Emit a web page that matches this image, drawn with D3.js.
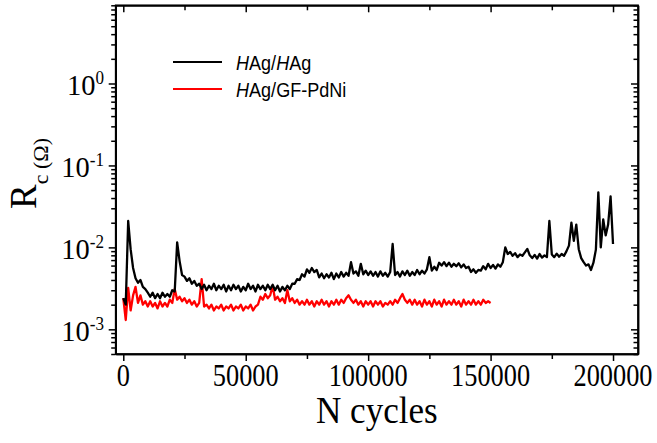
<!DOCTYPE html>
<html><head><meta charset="utf-8">
<script src="https://cdn.jsdelivr.net/npm/d3@7"></script>
<style>body{margin:0;background:#fff}svg{display:block}</style>
</head><body><div id="chart"></div>
<script>
// ---- data (resistance in units of 1e-3 Ω, sampled every 1000 cycles) ----
const cycleStep = 1000;
const seriesNames = ["HAg/HAg", "HAg/GF-PdNi"];
const seriesColors = ["#000000", "#ff0000"];
const blackValues = [
2.4,2.0,21,9.5,5.6,4.2,3.7,4.0,3.3,3.1,2.8,2.5,2.8,2.4,2.7,2.4,2.8,2.5,2.7,2.5,
3.0,2.9,11.5,6.8,4.6,4.4,3.9,4.2,3.6,3.9,3.4,3.6,3.1,3.5,3.0,3.4,3.1,3.6,3.0,3.4,
3.1,3.5,2.9,3.4,3.0,3.5,3.1,3.4,2.9,3.3,3.0,3.6,3.1,3.4,2.9,3.5,3.1,3.4,3.0,3.5,
3.1,3.5,3.0,3.4,2.9,3.3,3.0,3.4,3.1,3.6,3.6,4.1,4.0,4.7,4.4,5.4,4.9,5.6,5.0,5.3,
4.3,4.8,4.2,4.7,4.3,4.9,4.1,4.8,4.3,5.0,4.4,4.9,4.5,6.6,4.8,5.1,4.5,6.3,4.7,5.2,
4.6,5.1,4.5,5.0,4.4,5.1,4.5,4.9,4.4,5.0,11,4.6,5.0,4.4,5.1,4.6,5.2,4.5,5.0,4.6,
5.3,4.7,5.2,4.8,5.4,7.6,5.2,5.8,5.3,6.5,6.0,6.6,5.9,6.5,5.8,6.3,5.9,6.4,5.7,6.2,
5.6,5.8,5.0,5.4,4.9,5.3,5.2,5.9,5.4,6.3,5.6,6.1,5.5,6.2,5.8,6.6,10,8.3,8.8,7.9,
8.5,7.6,8.2,7.9,8.7,9.6,8.0,7.4,8.1,7.3,8.3,7.5,8.0,7.6,21,8.2,7.6,8.4,7.7,8.3,
7.9,9.0,10.5,20,12,19,9.5,7.4,6.6,6.0,6.2,5.3,6.5,9.4,47,10,22,14,19,42,
11];
const redValues = [
2.4,1.3,3.2,1.7,2.6,3.3,2.1,2.6,2.0,2.2,1.9,2.2,1.9,2.1,1.8,2.2,1.9,2.1,1.9,2.3,
2.1,3.1,2.3,2.5,2.2,2.4,2.1,2.3,2.0,2.2,1.9,2.1,4.1,1.9,2.0,1.8,2.0,1.7,1.9,1.8,
2.0,1.7,1.9,1.8,2.0,1.7,1.9,1.8,2.0,1.7,1.9,1.8,2.0,1.7,1.9,2.0,2.5,2.3,2.7,2.4,
2.6,3.4,2.3,2.5,2.2,2.4,2.1,3.0,2.2,2.4,2.1,2.3,2.0,2.2,2.0,2.3,2.0,2.2,1.9,2.2,
2.0,2.3,2.0,2.2,1.9,2.2,2.0,2.3,2.0,2.3,2.1,2.4,2.6,2.3,2.1,2.3,2.0,2.2,1.9,2.2,
2.0,2.2,1.9,2.2,2.0,2.2,1.9,2.1,2.0,2.2,2.0,2.3,2.1,2.4,2.7,2.3,2.1,2.3,2.0,2.3,
2.0,2.2,1.9,2.3,2.0,2.2,1.9,2.3,2.0,2.2,1.9,2.3,2.0,2.2,2.0,2.3,2.0,2.2,1.9,2.3,
2.0,2.2,2.0,2.3,2.0,2.2,2.0,2.3,2.1,2.2,2.1];
const xTickValues = [0, 50000, 100000, 150000, 200000];
const xMinorValues = [25000, 75000, 125000, 175000];
const yTickExponents = [-3, -2, -1, 0];
const xDomain = [-3100, 210200];
const yDomain = [5e-4, 9];

// ---- layout ----
const W = 657, H = 443;
const m = {left: 115.7, right: 638, top: 5.3, bottom: 354};
const svg = d3.select("#chart").append("svg").attr("width", W).attr("height", H);
const x = d3.scaleLinear().domain(xDomain).range([m.left, m.right]);
const y = d3.scaleLog().domain(yDomain).range([m.bottom, m.top]);

const yMajor = yTickExponents.map(e => Math.pow(10, e));
const yMinor = y.ticks().filter(v => {
  const l = Math.log10(v); return Math.abs(l - Math.round(l)) > 1e-6;
}).filter(v => v >= yDomain[0] && v <= yDomain[1]);

// ---- data lines ----
const line = d3.line().x(d => x(d[0])).y(d => y(d[1]));
svg.append("clipPath").attr("id", "clip").append("rect")
  .attr("x", m.left).attr("y", m.top).attr("width", m.right - m.left).attr("height", m.bottom - m.top);
[[redValues, seriesColors[1]], [blackValues, seriesColors[0]]].forEach(([vals, col]) => {
  const data = vals.map((v, i) => [i * cycleStep, v * 1e-3]);
  svg.append("path").datum(data)
    .attr("clip-path", "url(#clip)")
    .attr("fill", "none")
    .attr("stroke", col)
    .attr("stroke-width", 2.3)
    .attr("stroke-linejoin", "round")
    .attr("d", line);
});

// ---- axes ----
const axStyle = g => { g.selectAll("path,line").attr("stroke", "#000").attr("stroke-width", 1.5); g.selectAll("text").remove(); };
const addAxis = (gen, tx, ty) => svg.append("g").attr("transform", `translate(${tx},${ty})`).call(gen).call(axStyle);
addAxis(d3.axisBottom(x).tickValues(xTickValues).tickSize(7).tickSizeOuter(0), 0, m.bottom);
addAxis(d3.axisBottom(x).tickValues(xMinorValues).tickSize(5).tickSizeOuter(0), 0, m.bottom);
addAxis(d3.axisBottom(x).tickValues(xTickValues).tickSize(7).tickSizeOuter(0), 0, m.top);
addAxis(d3.axisBottom(x).tickValues(xMinorValues).tickSize(5).tickSizeOuter(0), 0, m.top);
addAxis(d3.axisLeft(y).tickValues(yMajor).tickSize(7).tickSizeOuter(0), m.left, 0);
addAxis(d3.axisLeft(y).tickValues(yMinor).tickSize(4.5).tickSizeOuter(0), m.left, 0);
addAxis(d3.axisLeft(y).tickValues(yMajor).tickSize(7).tickSizeOuter(0), m.right, 0);
addAxis(d3.axisLeft(y).tickValues(yMinor).tickSize(4.5).tickSizeOuter(0), m.right, 0);
svg.append("rect").attr("x", m.left).attr("y", m.top).attr("width", m.right - m.left).attr("height", m.bottom - m.top)
  .attr("fill", "none").attr("stroke", "#000").attr("stroke-width", 1.7);

// ---- tick labels ----
const serif = "'Liberation Serif','Times New Roman',serif";
svg.append("g").selectAll("text").data(xTickValues).join("text")
  .attr("transform", d => `translate(${x(d)},${m.bottom + 32}) scale(0.85,1)`)
  .attr("text-anchor", "middle").attr("font-family", serif).attr("font-size", 31)
  .text(d => String(d));
const yl = svg.append("g").selectAll("text").data(yTickExponents).join("text")
  .attr("transform", d => `translate(104,${y(Math.pow(10, d)) + 11.5}) scale(0.95,1)`)
  .attr("text-anchor", "end").attr("font-family", serif).attr("font-size", 30);
yl.append("tspan").text("10");
yl.append("tspan").attr("font-size", 18).attr("dy", -11).text(d => String(d));

// ---- axis titles ----
svg.append("text").attr("transform", `translate(${(m.left + m.right) / 2},423) scale(0.9,1)`)
  .attr("text-anchor", "middle").attr("font-family", serif).attr("font-size", 39).text("N cycles");
const yt = svg.append("text").attr("transform", "translate(36,209) rotate(-90)")
  .attr("font-family", serif).attr("font-size", 37);
yt.append("tspan").text("R");
yt.append("tspan").attr("font-size", 22).attr("dy", 12).text("c (Ω)");

// ---- legend ----
const sans = "'Liberation Sans',Arial,sans-serif";
const legY = [62, 89];
const leg = svg.append("g");
seriesNames.forEach((name, i) => {
  leg.append("line").attr("x1", 173).attr("x2", 222).attr("y1", legY[i]).attr("y2", legY[i])
    .attr("stroke", seriesColors[i]).attr("stroke-width", 2);
  const t = leg.append("text").attr("transform", `translate(236,${legY[i] + 7.5}) scale(0.86,1)`)
    .attr("font-family", sans).attr("font-size", 21);
  const parts = name.split("/");
  t.append("tspan").attr("font-style", "italic").text("H");
  t.append("tspan").text(parts[0].slice(1) + "/");
  if (parts[1].startsWith("H")) {
    t.append("tspan").attr("font-style", "italic").text("H");
    t.append("tspan").text(parts[1].slice(1));
  } else {
    t.append("tspan").text(parts[1]);
  }
});
</script>
</body></html>
